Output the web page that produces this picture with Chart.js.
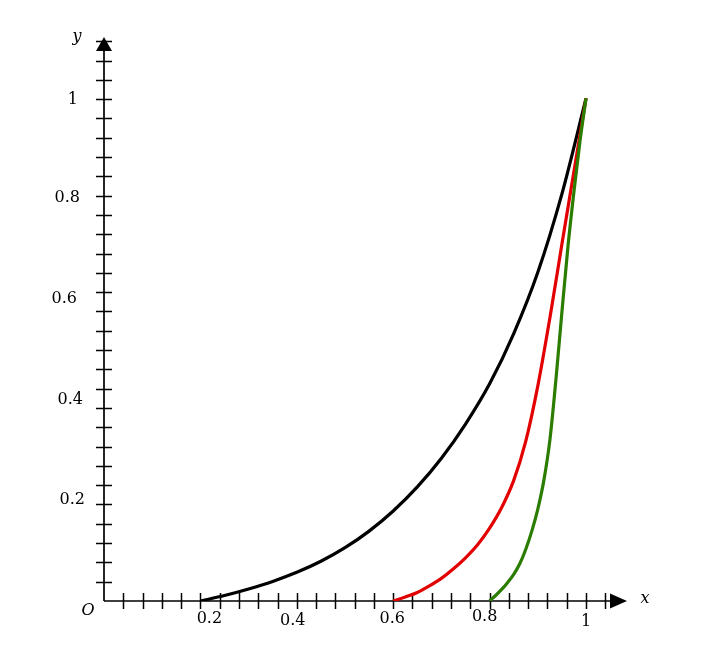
<!DOCTYPE html>
<html>
<head>
<meta charset="utf-8">
<script src="https://cdn.jsdelivr.net/npm/chart.js@4"></script>
<style>
  html, body { margin: 0; padding: 0; background: #fff; }
  #wrap { width: 703px; height: 656px; }
</style>
</head>
<body>
<div id="wrap"><canvas id="chart" width="703" height="656"></canvas></div>
<script>
// values
const blackX = [0.2, 0.25, 0.3, 0.35, 0.4, 0.45, 0.5, 0.55, 0.6, 0.65, 0.7, 0.75, 0.8, 0.85, 0.9, 0.95, 1.0];
const blackY = [0, 0.011, 0.024, 0.039, 0.057, 0.079, 0.106, 0.139, 0.179, 0.227, 0.284, 0.352, 0.432, 0.532, 0.654, 0.81, 1.0];

const redX = [0.6, 0.625, 0.65, 0.675, 0.7, 0.725, 0.75, 0.775, 0.8, 0.825, 0.85, 0.875, 0.9, 0.925, 0.95, 0.975, 1.0];
const redY = [0, 0.008, 0.017, 0.03, 0.045, 0.064, 0.086, 0.112, 0.145, 0.186, 0.24, 0.318, 0.428, 0.563, 0.71, 0.855, 1.0];

const greenX = [0.8, 0.8125, 0.825, 0.8375, 0.85, 0.8625, 0.875, 0.8875, 0.9, 0.9125, 0.925, 0.9375, 0.95, 0.9625, 0.975, 0.9875, 1.0];
const greenY = [0, 0.011, 0.023, 0.037, 0.053, 0.074, 0.103, 0.139, 0.183, 0.24, 0.32, 0.44, 0.575, 0.705, 0.815, 0.915, 1.0];

const xTickLabels = [0.2, 0.4, 0.6, 0.8, 1];
const yTickLabels = [0.2, 0.4, 0.6, 0.8, 1];
const xMinorStep = 0.04;
const xMinorCount = 26;
const yMinorStep = 0.0384;
const yMinorCount = 29;

const toPoints = (xs, ys) => xs.map((x, i) => ({ x: x, y: ys[i] }));

const FONT = '"DejaVu Serif", "Liberation Serif", serif';

// axes, arrows, ticks and labels drawn by hand on top of the scales
const axesPlugin = {
  id: "axes",
  beforeDatasetsDraw(chart) {
    const ctx = chart.ctx;
    const xs = chart.scales.x;
    const ys = chart.scales.y;
    const x0 = xs.getPixelForValue(0);
    const y0 = ys.getPixelForValue(0);
    const xEnd = xs.right;
    const yEnd = ys.top;

    ctx.save();
    ctx.strokeStyle = "#000";
    ctx.fillStyle = "#000";
    ctx.lineWidth = 1.7;

    // axis lines
    ctx.beginPath();
    ctx.moveTo(x0, y0);
    ctx.lineTo(xEnd - 16, y0);
    ctx.moveTo(x0, y0);
    ctx.lineTo(x0, yEnd + 13);
    ctx.stroke();

    // minor ticks
    ctx.lineWidth = 1.5;
    ctx.beginPath();
    for (let k = 1; k <= xMinorCount; k++) {
      const px = Math.round(xs.getPixelForValue(k * xMinorStep)) + 0.5;
      ctx.moveTo(px, y0 - 8);
      ctx.lineTo(px, y0 + 8);
    }
    for (let k = 1; k <= yMinorCount; k++) {
      const py = Math.round(ys.getPixelForValue(k * yMinorStep)) + 0.5;
      ctx.moveTo(x0 - 8, py);
      ctx.lineTo(x0 + 8, py);
    }
    ctx.stroke();

    // arrow heads
    ctx.beginPath();
    ctx.moveTo(xEnd, y0);
    ctx.lineTo(xEnd - 17, y0 - 7.5);
    ctx.lineTo(xEnd - 17, y0 + 7.5);
    ctx.closePath();
    ctx.fill();
    ctx.beginPath();
    ctx.moveTo(x0, yEnd);
    ctx.lineTo(x0 - 8, yEnd + 14);
    ctx.lineTo(x0 + 8, yEnd + 14);
    ctx.closePath();
    ctx.fill();

    // tick labels (slightly uneven like the original)
    ctx.font = "16px " + FONT;
    ctx.textBaseline = "middle";
    ctx.textAlign = "center";
    const xJit = [[9, 0], [-4, 2], [-1, 0], [-5, -2], [0, 3]];
    xTickLabels.forEach((v, i) => {
      const px = xs.getPixelForValue(v);
      ctx.fillText(String(v), px + xJit[i][0], y0 + 18 + xJit[i][1]);
    });
    ctx.textAlign = "right";
    const yJit = [[-1, -1], [-3, 0], [-9, -1], [-6, -1], [-8, 2]];
    yTickLabels.forEach((v, i) => {
      const py = ys.getPixelForValue(v);
      ctx.fillText(String(v), x0 - 18 + yJit[i][0], py + yJit[i][1]);
    });

    // axis names
    ctx.font = "italic 16px " + FONT;
    ctx.textAlign = "center";
    ctx.fillText("O", x0 - 16, y0 + 10);
    ctx.fillText("x", xEnd + 18, y0 - 2);
    ctx.fillText("y", x0 - 27, yEnd + 0);
    ctx.restore();
  },
};

const line = (pts, color) => ({
  data: pts,
  borderColor: color,
  borderWidth: 3.2,
  pointRadius: 0,
  showLine: true,
  fill: false,
  cubicInterpolationMode: "monotone",
});

new Chart(document.getElementById("chart"), {
  type: "scatter",
  data: {
    datasets: [
      line(toPoints(greenX, greenY), "#2b7d00"),
      line(toPoints(redX, redY), "#e30000"),
      line(toPoints(blackX, blackY), "#000000"),
    ],
  },
  options: {
    responsive: false,
    animation: false,
    layout: { padding: { left: 104, right: 76, top: 37, bottom: 55 } },
    plugins: { legend: { display: false }, tooltip: { enabled: false } },
    scales: {
      x: { type: "linear", min: 0, max: 1.085, display: false },
      y: { type: "linear", min: 0, max: 1.122, display: false },
    },
  },
  plugins: [axesPlugin],
});
</script>
</body>
</html>
